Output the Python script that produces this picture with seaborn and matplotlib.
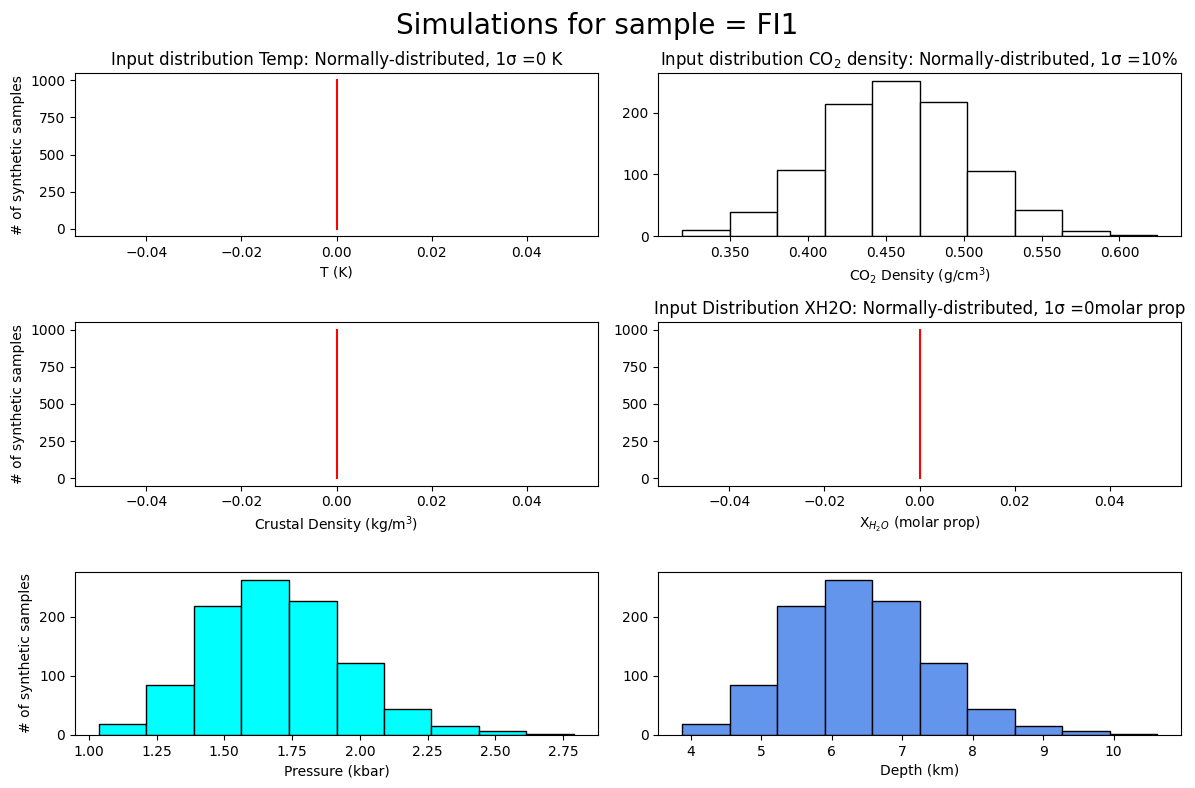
import numpy as np
import pandas as pd
import matplotlib
matplotlib.use("Agg")
import matplotlib.pyplot as plt
import seaborn as sns

# ---- data ----
co2_edges = [0.3191, 0.3500, 0.3803, 0.4107, 0.4411, 0.4720, 0.5023, 0.5330, 0.5634, 0.5939, 0.6243]
co2_counts = [10, 39, 107, 215, 252, 218, 106, 43, 8, 2]

press_edges = [1.037, 1.212, 1.387, 1.561, 1.739, 1.914, 2.089, 2.264, 2.441, 2.614, 2.791]
press_counts = [18, 85, 219, 263, 226, 121, 44, 16, 6, 2]

depth_edges = [3.871, 4.555, 5.217, 5.896, 6.569, 7.253, 7.920, 8.599, 9.272, 9.946, 10.62]
depth_counts = [18, 85, 219, 263, 226, 121, 44, 16, 6, 2]

const_x = [0.0, 0.0]        # zero-sigma inputs: all samples at 0
const_y = [0, 1000]         # number of synthetic samples

fig, axes = plt.subplots(3, 2, figsize=(11.95, 7.88), dpi=100)
fig.subplots_adjust(left=0.0628, right=0.9883, top=0.9074, bottom=0.0673,
                    wspace=0.115, hspace=0.528)
fig.suptitle("Simulations for sample = FI1", fontsize=20, y=0.985)


def const_line(ax):
    sns.lineplot(x=const_x, y=const_y, estimator=None, sort=False,
                 color="red", ax=ax)


def hist(ax, edges, counts, color):
    e = np.array(edges)
    centers = (e[:-1] + e[1:]) / 2
    df = pd.DataFrame({"x": centers, "w": counts})
    sns.histplot(data=df, x="x", weights="w", bins=edges, color=color,
                 edgecolor="black", linewidth=1, alpha=1, ax=ax)


ax = axes[0, 0]
const_line(ax)
ax.set_title("Input distribution Temp: Normally-distributed, 1σ =0 K", fontsize=12)
ax.set_xlabel("T (K)")
ax.set_ylabel("# of synthetic samples")

ax = axes[0, 1]
hist(ax, co2_edges, co2_counts, "white")
ax.set_title("Input distribution CO$_2$ density: Normally-distributed, 1σ =10%", fontsize=12)
ax.set_xlabel("CO$_2$ Density (g/cm$^3$)")
ax.set_ylabel("")
ax.xaxis.set_major_formatter(matplotlib.ticker.FormatStrFormatter("%.3f"))

ax = axes[1, 0]
const_line(ax)
ax.set_xlabel("Crustal Density (kg/m$^3$)")
ax.set_ylabel("# of synthetic samples")

ax = axes[1, 1]
const_line(ax)
ax.set_title("Input Distribution XH2O: Normally-distributed, 1σ =0molar prop", fontsize=12)
ax.set_xlabel("X$_{H_2O}$ (molar prop)")
ax.set_ylabel("")

ax = axes[2, 0]
hist(ax, press_edges, press_counts, "cyan")
ax.set_xlabel("Pressure (kbar)")
ax.set_ylabel("# of synthetic samples")

ax = axes[2, 1]
hist(ax, depth_edges, depth_counts, "cornflowerblue")
ax.set_xlabel("Depth (km)")
ax.set_ylabel("")

fig.savefig("out.png", dpi=100)
